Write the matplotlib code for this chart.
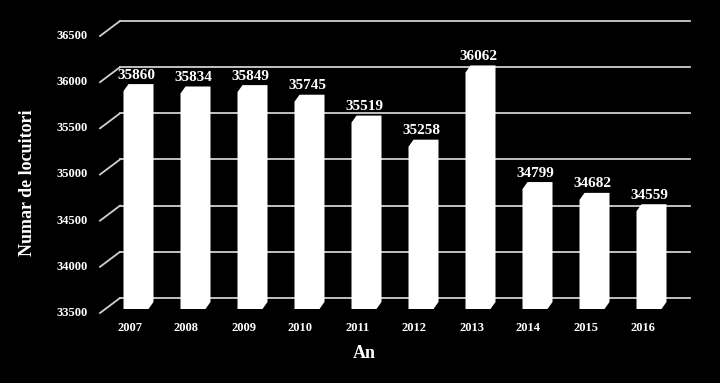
import matplotlib
matplotlib.use('Agg')
import matplotlib.pyplot as plt
import matplotlib.transforms as mtransforms
from matplotlib.patches import Polygon

# data
years = ['2007', '2008', '2009', '2010', '2011', '2012', '2013', '2014', '2015', '2016']
population = [35860, 35834, 35849, 35745, 35519, 35258, 36062, 34799, 34682, 34559]
y_ticks = [33500, 34000, 34500, 35000, 35500, 36000, 36500]

plt.rcParams['font.family'] = ['Liberation Serif', 'DejaVu Serif']
plt.rcParams['font.weight'] = 'bold'

W, H = 720, 383
fig = plt.figure(figsize=(W / 100, H / 100), dpi=100, facecolor='black')
# axes = middle-depth plane of the fake 3D chart
ax = fig.add_axes([110 / W, (H - 305.5) / H, 570 / W, 277 / H])
ax.set_xlim(-0.5, len(years) - 0.5)
ax.set_ylim(y_ticks[0], y_ticks[-1])
ax.axis('off')
ax.set_facecolor('black')

px_x = 570 / len(years)                    # pixels per category
px_y = 277 / (y_ticks[-1] - y_ticks[0])    # pixels per unit value


def shift(dx, dy):
    # data transform moved by dx, dy pixels
    return ax.transData + mtransforms.ScaledTranslation(dx / 100, dy / 100, fig.dpi_scale_trans)


grid_col = '#d0d0d0'
back = shift(10, 7.5)
for v in y_ticks:
    ax.plot([-0.5, len(years) - 0.5], [v, v], transform=back, color=grid_col,
            lw=1.3, clip_on=False, zorder=1)
    # little diagonal from the front edge to the back wall
    ax.plot([-0.5 - 20 / px_x, -0.5], [v - 15 / px_y, v], transform=back,
            color=grid_col, lw=1.3, clip_on=False, zorder=1)
    ax.text(-0.5, v, str(v), transform=shift(-22, -7.5), ha='right', va='center',
            color='white', fontsize=9, fontweight='bold')

base = y_ticks[0]
ux, uy = 1 / px_x, 1 / px_y
for i, v in enumerate(population):
    pts = [(i - 15 * ux, base - 3.5 * uy), (i + 10 * ux, base - 3.5 * uy),
           (i + 15 * ux, base + 3.5 * uy), (i + 15 * ux, v + 3.5 * uy),
           (i - 10 * ux, v + 3.5 * uy), (i - 15 * ux, v - 3.5 * uy)]
    ax.add_patch(Polygon(pts, closed=True, facecolor='white', edgecolor='none',
                         zorder=3, clip_on=False))
    ax.text(i, v, str(v), transform=shift(-2, 6), ha='center', va='bottom',
            color='white', fontsize=11, fontweight='bold', zorder=4)
    ax.text(i, base, years[i], transform=shift(-9, -22.5), ha='center', va='center',
            color='white', fontsize=9, fontweight='bold')

fig.text(364 / W, 1 - 353 / H, 'An', ha='center', va='center', color='white',
         fontsize=13, fontweight='bold')
fig.text(28 / W, 1 - 183 / H, 'Numar de locuitori', ha='center', va='center',
         rotation=90, color='white', fontsize=13, fontweight='bold')

fig.savefig('out.png', dpi=100, facecolor='black')
